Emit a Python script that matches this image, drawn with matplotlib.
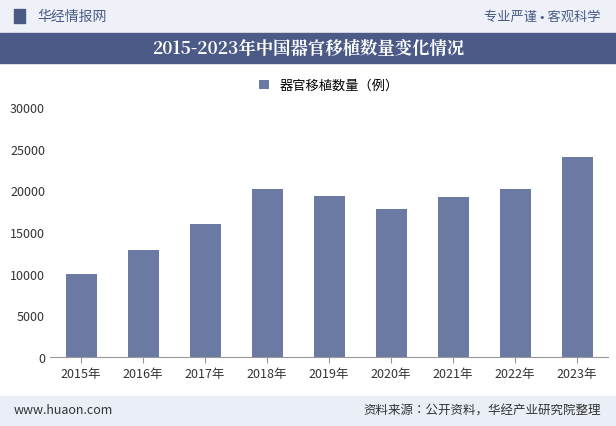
import matplotlib
matplotlib.use("Agg")
import matplotlib.pyplot as plt
from matplotlib.patches import Rectangle
from matplotlib import font_manager as fm

sans = None
serif = None
for f in sorted(fm.findSystemFonts()):
    if "CJK" not in f:
        continue
    try:
        fm.fontManager.addfont(f)
        name = fm.FontProperties(fname=f).get_name()
    except Exception:
        continue
    if "Sans" in name and (sans is None or "SC" in name):
        sans = name
    if "Serif" in name and (serif is None or "SC" in name):
        serif = name
plt.rcParams['font.family'] = [sans or 'Noto Sans CJK SC', 'DejaVu Sans']

years = ["2015年","2016年","2017年","2018年","2019年","2020年","2021年","2022年","2023年"]
values = [10000, 12800, 16000, 20200, 19300, 17800, 19200, 20200, 24000]
yticks = [0, 5000, 10000, 15000, 20000, 25000, 30000]
series_name = "器官移植数量（例）"
title = "2015-2023年中国器官移植数量变化情况"

fig = plt.figure(figsize=(6.16, 4.27), dpi=100)
W, H = 616, 427
def fy(y): return 1 - y / H

fig.patches.append(Rectangle((0, fy(33)), 1, 33/H, transform=fig.transFigure, color="#eef1f7", zorder=0))
fig.text(0.06, fy(17), "华经情报网", fontsize=10, color="#4a5a85", va="center")
fig.patches.append(Rectangle((0.022, fy(24)), 0.018, 14/H, transform=fig.transFigure, color="#4a5a85"))
fig.text(0.975, fy(17), "专业严谨 • 客观科学", fontsize=9.5, color="#4a5a85", va="center", ha="right")
fig.patches.append(Rectangle((0, fy(64)), 1, 30/H, transform=fig.transFigure, color="#4b5a86"))
fig.text(0.5, fy(49), title, fontsize=12.5, color="white", weight="bold", va="center", ha="center",
         family=[serif] if serif else None)
fig.patches.append(Rectangle((0, 0), 1, 30/H, transform=fig.transFigure, color="#e9eef7"))
fig.text(0.022, fy(411), "www.huaon.com", fontsize=9, color="#333333", va="center")
fig.text(0.975, fy(411), "资料来源：公开资料，华经产业研究院整理", fontsize=9, color="#333333", va="center", ha="right")

ax = fig.add_axes([50/W, 1-358/H, 558/W, 250/H])
x = range(len(years))
ax.bar(x, values, width=0.5, color="#6b7aa3", label=series_name)
ax.set_xlim(-0.5, len(years)-0.5)
ax.set_ylim(0, 30000)
ax.set_yticks(yticks)
ax.set_xticks(list(x))
ax.set_xticklabels(years)
ax.tick_params(labelsize=9, colors="#333333", length=0)
ax.tick_params(axis='x', length=4, color="#999999")
for s in ["top", "right", "left"]:
    ax.spines[s].set_visible(False)
ax.spines["bottom"].set_color("#999999")
ax.legend(loc="upper center", bbox_to_anchor=(0.5, 1.16), frameon=False, fontsize=9.5,
          handlelength=0.7, handleheight=0.7)
fig.savefig("out.png", dpi=100)
